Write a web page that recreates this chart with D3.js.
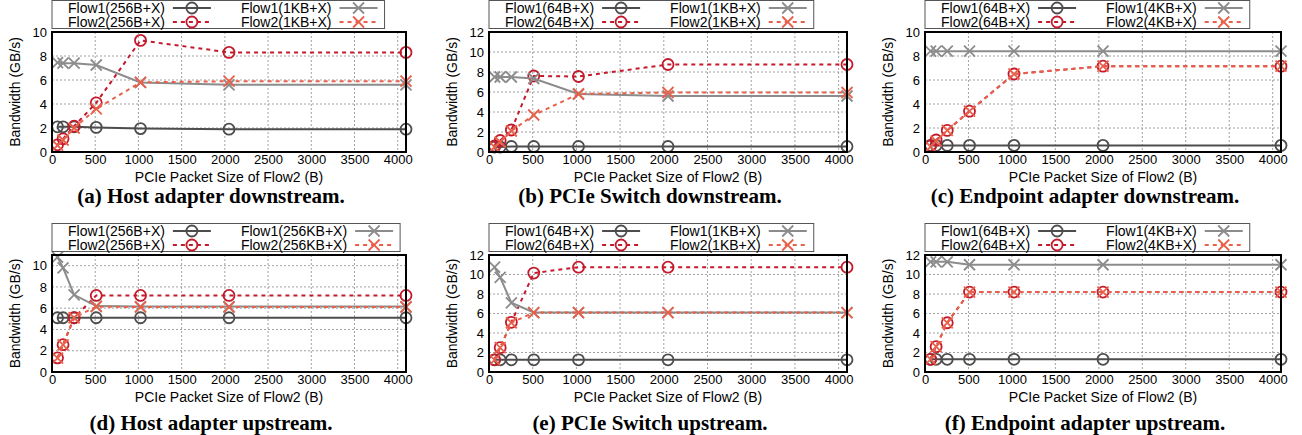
<!DOCTYPE html>
<html>
<head>
<meta charset="utf-8">
<script src="https://cdn.jsdelivr.net/npm/d3@7"></script>
<style>
  body { margin: 0; background: #fff; }
  svg { display: block; }
  text { font-family: "Liberation Sans", Arial, sans-serif; }
  .caption { font-family: "Liberation Serif", "Times New Roman", serif; font-weight: bold; }
</style>
</head>
<body>
<svg id="chart" width="1302" height="435"></svg>
<script>
// packet sizes of Flow2 (B)
const sizes = [64, 128, 256, 512, 1024, 2048, 4096];
const xTicks = [0, 500, 1000, 1500, 2000, 2500, 3000, 3500, 4000];

// (a) Host adapter downstream
const aFlow1Small = [2.1, 2.1, 2.1, 2.05, 1.95, 1.9, 1.9];
const aFlow2Small = [0.6, 1.1, 2.15, 4.1, 9.3, 8.3, 8.3];
const aFlow1Large = [7.45, 7.4, 7.4, 7.25, 5.8, 5.6, 5.6];
const aFlow2Large = [0.55, 1.0, 2.0, 3.6, 5.8, 5.9, 5.9];
const aLabels = ["Flow1(256B+X)", "Flow2(256B+X)", "Flow1(1KB+X)", "Flow2(1KB+X)"];

// (b) PCIe Switch downstream
const bFlow1Small = [0.5, 0.5, 0.55, 0.55, 0.55, 0.55, 0.55];
const bFlow2Small = [0.6, 1.15, 2.2, 7.6, 7.55, 8.75, 8.75];
const bFlow1Large = [7.5, 7.5, 7.5, 7.35, 5.8, 5.6, 5.6];
const bFlow2Large = [0.5, 1.0, 2.1, 3.7, 5.8, 5.95, 5.95];
const bLabels = ["Flow1(64B+X)", "Flow2(64B+X)", "Flow1(1KB+X)", "Flow2(1KB+X)"];

// (c) Endpoint adapter downstream
const cFlow1Small = [0.55, 0.55, 0.55, 0.55, 0.55, 0.55, 0.55];
const cFlow2Small = [0.5, 1.0, 1.8, 3.4, 6.5, 7.15, 7.15];
const cFlow1Large = [8.4, 8.4, 8.4, 8.4, 8.4, 8.4, 8.4];
const cFlow2Large = [0.45, 0.9, 1.8, 3.4, 6.5, 7.15, 7.15];
const cLabels = ["Flow1(64B+X)", "Flow2(64B+X)", "Flow1(4KB+X)", "Flow2(4KB+X)"];

// (d) Host adapter upstream
const dFlow1Small = [5.1, 5.1, 5.1, 5.1, 5.1, 5.1, 5.1];
const dFlow2Small = [1.33, 2.57, 5.1, 7.2, 7.2, 7.2, 7.2];
const dFlow1Large = [10.8, 9.8, 7.25, 6.2, 6.15, 6.15, 6.15];
const dFlow2Large = [1.3, 2.55, 5.1, 6.15, 6.1, 6.1, 6.1];
const dLabels = ["Flow1(256B+X)", "Flow2(256B+X)", "Flow1(256KB+X)", "Flow2(256KB+X)"];

// (e) PCIe Switch upstream
const eFlow1Small = [1.25, 1.25, 1.25, 1.25, 1.25, 1.25, 1.25];
const eFlow2Small = [1.25, 2.5, 5.1, 10.15, 10.75, 10.75, 10.75];
const eFlow1Large = [10.75, 9.7, 7.1, 6.1, 6.1, 6.1, 6.1];
const eFlow2Large = [1.25, 2.5, 5.05, 6.1, 6.1, 6.1, 6.1];
const eLabels = ["Flow1(64B+X)", "Flow2(64B+X)", "Flow1(1KB+X)", "Flow2(1KB+X)"];

// (f) Endpoint adapter upstream
const fFlow1Small = [1.3, 1.3, 1.3, 1.3, 1.3, 1.3, 1.3];
const fFlow2Small = [1.3, 2.6, 5.05, 8.2, 8.2, 8.2, 8.2];
const fFlow1Large = [11.3, 11.3, 11.3, 11.0, 11.0, 11.0, 11.0];
const fFlow2Large = [1.3, 2.6, 5.05, 8.2, 8.2, 8.2, 8.2];
const fLabels = ["Flow1(64B+X)", "Flow2(64B+X)", "Flow1(4KB+X)", "Flow2(4KB+X)"];

const captions = [
  "(a) Host adapter downstream.", "(b) PCIe Switch downstream.", "(c) Endpoint adapter downstream.",
  "(d) Host adapter upstream.", "(e) PCIe Switch upstream.", "(f) Endpoint adapter upstream."
];
const yMaxes = [10, 12, 10, 11, 12, 12];

const panels = [
  [aFlow1Small, aFlow2Small, aFlow1Large, aFlow2Large, aLabels],
  [bFlow1Small, bFlow2Small, bFlow1Large, bFlow2Large, bLabels],
  [cFlow1Small, cFlow2Small, cFlow1Large, cFlow2Large, cLabels],
  [dFlow1Small, dFlow2Small, dFlow1Large, dFlow2Large, dLabels],
  [eFlow1Small, eFlow2Small, eFlow1Large, eFlow2Large, eLabels],
  [fFlow1Small, fFlow2Small, fFlow1Large, fFlow2Large, fLabels]
];

// series styles: Flow1 small, Flow2 small, Flow1 large, Flow2 large
const styles = [
  { color: "#4d4d4d", dash: null, marker: "circle" },
  { color: "#c41a2c", dash: "4,4", marker: "circle" },
  { color: "#8c8c8c", dash: null, marker: "cross" },
  { color: "#e8604a", dash: "4,4", marker: "cross" }
];

const cols = [{ left: 52, right: 406 }, { left: 489, right: 847 }, { left: 925, right: 1281 }];
const rows = [
  { top: 32, bottom: 152, xlab: 177, cap: 196 },
  { top: 255, bottom: 372, xlab: 397, cap: 423 }
];
const fs = 14;      // labels, legend
const tickFs = 13;  // tick labels

const svg = d3.select("#chart");

function drawMarker(g, type, x, y, color) {
  const r = 5.5;
  if (type === "circle") {
    g.append("circle").attr("cx", x).attr("cy", y).attr("r", r)
      .attr("fill", "none").attr("stroke", color).attr("stroke-width", 1.8);
  } else {
    g.append("path")
      .attr("d", `M${x - r},${y - r}L${x + r},${y + r}M${x - r},${y + r}L${x + r},${y - r}`)
      .attr("stroke", color).attr("stroke-width", 1.8).attr("fill", "none");
  }
}

panels.forEach((p, i) => {
  const col = cols[i % 3], row = rows[Math.floor(i / 3)];
  const g = svg.append("g");

  const x = d3.scaleLinear().domain([0, 4096]).range([col.left, col.right]);
  const y = d3.scaleLinear().domain([0, yMaxes[i]]).range([row.bottom, row.top]);
  const yTicks = d3.range(0, yMaxes[i] + 0.01, 2);

  // grid
  g.append("g").selectAll("line").data(xTicks.filter(t => t > 0)).join("line")
    .attr("x1", d => x(d)).attr("x2", d => x(d))
    .attr("y1", row.top).attr("y2", row.bottom)
    .attr("stroke", "#8a8a8a").attr("stroke-width", 0.8).attr("stroke-dasharray", "2,2");
  g.append("g").selectAll("line").data(yTicks.filter(t => t > 0 && t < yMaxes[i])).join("line")
    .attr("x1", col.left).attr("x2", col.right)
    .attr("y1", d => y(d)).attr("y2", d => y(d))
    .attr("stroke", "#8a8a8a").attr("stroke-width", 0.8).attr("stroke-dasharray", "2,2");

  // axes (labels only, gnuplot style)
  const xAxis = g.append("g").attr("transform", `translate(0,${row.bottom})`)
    .call(d3.axisBottom(x).tickValues(xTicks).tickFormat(d3.format("d")).tickSize(0).tickPadding(3));
  const yAxis = g.append("g").attr("transform", `translate(${col.left},0)`)
    .call(d3.axisLeft(y).tickValues(yTicks).tickFormat(d3.format("d")).tickSize(0).tickPadding(5));
  [xAxis, yAxis].forEach(a => {
    a.select(".domain").remove();
    a.selectAll("text").attr("font-size", tickFs).attr("fill", "#000")
      .style("font-family", '"Liberation Sans", Arial, sans-serif');
  });

  // series
  const line = d3.line().x(d => x(d[0])).y(d => y(d[1]));
  for (let s = 0; s < 4; s++) {
    const pts = sizes.map((sz, k) => [sz, p[s][k]]);
    const st = styles[s];
    g.append("path").datum(pts).attr("d", line)
      .attr("fill", "none").attr("stroke", st.color).attr("stroke-width", 2)
      .attr("stroke-dasharray", st.dash);
    const mg = g.append("g");
    pts.forEach(d => drawMarker(mg, st.marker, x(d[0]), y(d[1]), st.color));
  }

  // border
  g.append("rect").attr("x", col.left).attr("y", row.top)
    .attr("width", col.right - col.left).attr("height", row.bottom - row.top)
    .attr("fill", "none").attr("stroke", "#000").attr("stroke-width", 2);

  // axis titles
  g.append("text").attr("x", (col.left + col.right) / 2).attr("y", row.xlab)
    .attr("text-anchor", "middle").attr("dominant-baseline", "central")
    .attr("font-size", fs).text("PCIe Packet Size of Flow2 (B)");
  g.append("text")
    .attr("transform", `translate(${col.left - 37},${(row.top + row.bottom) / 2}) rotate(-90)`)
    .attr("text-anchor", "middle").attr("dominant-baseline", "central")
    .attr("font-size", fs).text("Bandwidth (GB/s)");

  // caption
  g.append("text").attr("class", "caption")
    .attr("x", (col.left + col.right) / 2 - 18).attr("y", row.cap)
    .attr("text-anchor", "middle").attr("dominant-baseline", "central")
    .attr("font-size", 21).text(captions[i]);

  // legend
  const labels = p[4];
  const lg = g.append("g");
  const boxTop = row.top - 31.5, boxH = 28;
  const rowY = [boxTop + 7.5, boxTop + 21.5];
  const measure = t => {
    const tmp = lg.append("text").attr("font-size", fs).text(t);
    const w = tmp.node().getComputedTextLength();
    tmp.remove();
    return w;
  };
  const w1 = Math.max(measure(labels[0]), measure(labels[1]));
  const w2 = Math.max(measure(labels[2]), measure(labels[3]));
  const c1End = col.left + 16 + w1;
  const s1a = c1End + 8, s1b = s1a + 38;
  const c2End = s1b + 30 + w2;
  const s2a = c2End + 8, s2b = s2a + 38;
  const boxRight = s2b + 7;
  lg.append("rect").attr("x", col.left).attr("y", boxTop)
    .attr("width", boxRight - col.left).attr("height", boxH)
    .attr("fill", "#fff").attr("stroke", "#555").attr("stroke-width", 1);
  const entries = [
    { s: 0, end: c1End, a: s1a, b: s1b, y: rowY[0] },
    { s: 1, end: c1End, a: s1a, b: s1b, y: rowY[1] },
    { s: 2, end: c2End, a: s2a, b: s2b, y: rowY[0] },
    { s: 3, end: c2End, a: s2a, b: s2b, y: rowY[1] }
  ];
  entries.forEach(e => {
    const st = styles[e.s];
    lg.append("text").attr("x", e.end).attr("y", e.y)
      .attr("text-anchor", "end").attr("dominant-baseline", "central")
      .attr("font-size", fs).text(labels[e.s]);
    lg.append("line").attr("x1", e.a).attr("x2", e.b).attr("y1", e.y).attr("y2", e.y)
      .attr("stroke", st.color).attr("stroke-width", 2).attr("stroke-dasharray", st.dash);
    drawMarker(lg, st.marker, (e.a + e.b) / 2, e.y, st.color);
  });
});
</script>
</body>
</html>
